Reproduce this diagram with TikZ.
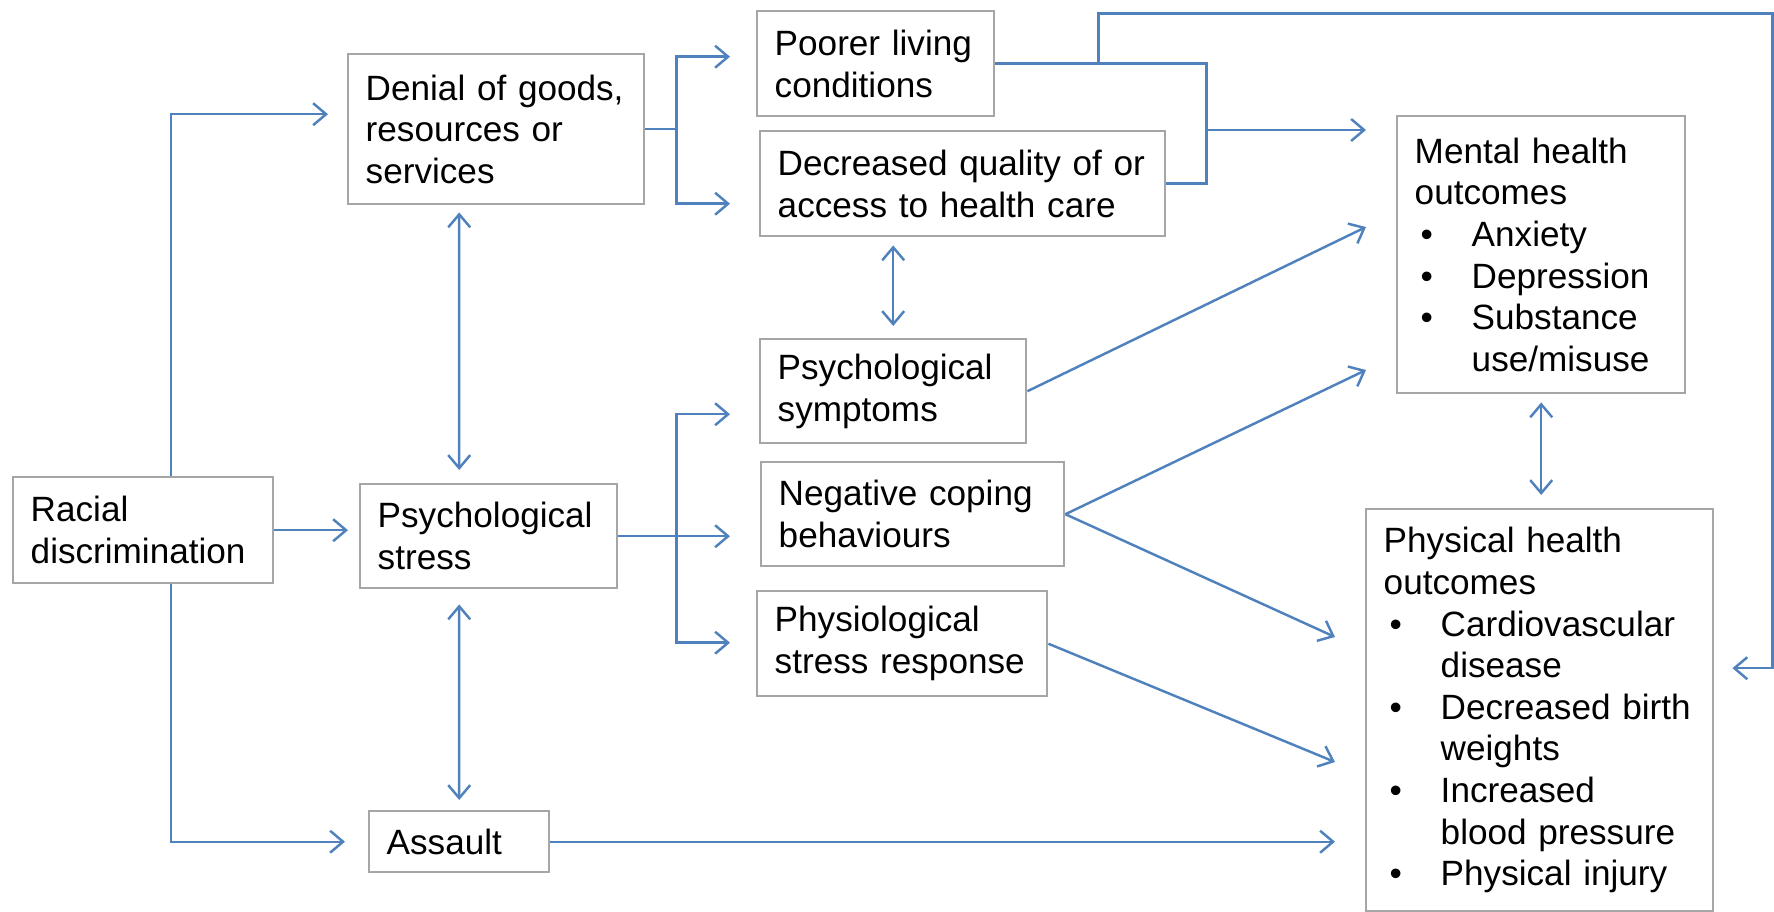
\documentclass[tikz,border=0pt]{standalone}
\usepackage{fontspec}
\setmainfont{Liberation Sans}
\usepackage{xcolor}
\usepackage{tikz}
\usetikzlibrary{arrows.meta}
\usetikzlibrary{calc}
\definecolor{linkblue}{RGB}{79,129,189}
\definecolor{boxgray}{RGB}{166,166,166}
\tikzstyle{box}=[rectangle,draw=boxgray,line width=1.4pt,fill=white,align=left,inner xsep=0.35cm,inner ysep=0.15cm,anchor=north west,font=\fontsize{20}{23.7}\selectfont]
\tikzstyle{link}=[draw=linkblue,line width=1.4pt]
\newcommand{\bul}[1]{\makebox[1.14cm][l]{\hspace{0.12cm}\textbullet}#1}
\newcommand{\bulcont}[1]{\hspace*{1.14cm}#1}

\begin{document}
\begin{tikzpicture}[x=0.02cm,y=-0.02cm,>={Straight Barb[length=2.6mm,width=4.4mm]}]

  \useasboundingbox (0,0) rectangle (1774,912);

  % boxes, placed by their top left corner
  \foreach \x/\y/\w/\h/\name/\label in {12/476/5.2/2.12/racial/{Racial\\discrimination},
      359/483/5.14/2.08/stress/{Psychological\\stress}, 347/53/5.92/3.0/denial/{Denial of goods,\\resources or\\services},
      368/810/3.6/1.22/assault/{Assault}}
  {
     \pgfmathsetmacro{\tw}{\w-0.7}
     \node[box,minimum width=\w cm,minimum height=\h cm,text width=\tw cm] (\name) at (\x,\y) {\label};
  }

  \foreach \x/\y/\w/\h/\name/\label in {756/10/4.74/2.1/poorer/{Poorer living\\conditions},
      759/130/8.1/2.1/quality/{Decreased quality of or\\access to health care},
      759/338/5.32/2.08/symptoms/{Psychological\\symptoms}, 760/461/6.06/2.08/coping/{Negative coping\\behaviours},
      756/590/5.8/2.1/physio/{Physiological\\stress response}}
  {
     \pgfmathsetmacro{\tw}{\w-0.7}
     \node[box,minimum width=\w cm,minimum height=\h cm,text width=\tw cm] (\name) at (\x,\y) {\label};
  }

  \node[box,minimum width=5.76cm,minimum height=5.54cm,text width=5.06cm] (mental) at (1396,115)
       {Mental health\\outcomes\\\bul{Anxiety}\\\bul{Depression}\\\bul{Substance}\\\bulcont{use/misuse}};
  \node[box,minimum width=6.94cm,minimum height=8.04cm,text width=6.24cm] (physical) at (1365,508)
       {Physical health\\outcomes\\\bul{Cardiovascular}\\\bulcont{disease}\\\bul{Decreased birth}\\\bulcont{weights}\\\bul{Increased}\\\bulcont{blood pressure}\\\bul{Physical injury}};

  % from racial discrimination
  \draw[link,->] ($(racial.north)+(28,0)$) |- ($(denial.west)+(-19,-15)$);
  \draw[link,->] (racial.east) -- ($(racial.east -| stress.west)+(-11,0)$);
  \draw[link,->] ($(racial.south)+(28,0)$) |- ($(assault.west)+(-23,0)$);

  % split after denial
  \coordinate (dsplit) at ($(denial.east)+(31,0)$);
  \draw[link] (denial.east) -- (dsplit);
  \draw[link,->] (dsplit) |- ($(poorer.west)+(-26,-7)$);
  \draw[link,->] (dsplit) |- ($(quality.west)+(-29,20)$);

  % poorer living and health care join
  \coordinate (qjoin) at ($(quality.east)+(40,0)$);
  \draw[link] (poorer.east) -| (qjoin) -- (quality.east);
  \draw[link,->] ($(qjoin |- mental.north)+(0,15)$) -- ($(mental.north west)+(-30,15)$);
  \draw[link,->] ($(poorer.east)+(103,0)$) -- ++(0,-50) -| ($(physical.east)+(58,-42)$) -- ($(physical.east)+(18,-42)$);

  % two way links
  \draw[link,<->] ($(denial.south)+(-37,7)$) -- ($(stress.north)+(-29.5,-13)$);
  \draw[link,<->] ($(stress.south)+(-29.5,15)$) -- ($(assault.north)+(0,-10)$);
  \draw[link,<->] ($(symptoms.north)+(0,-12)$) -- ($(quality.south -| symptoms.north)+(0,8)$);
  \draw[link,<->] ($(mental.south)+(0,8)$) -- ($(physical.north -| mental.south)+(0,-13)$);

  % split after psychological stress
  \coordinate (ssplit) at ($(stress.east)+(58,0)$);
  \draw[link,->] (stress.east) -- ($(stress.east -| coping.west)+(-30,0)$);
  \draw[link,->] (ssplit) |- ($(symptoms.west)+(-29,23)$);
  \draw[link,->] (ssplit) |- ($(physio.west)+(-26,-1)$);

  % to the outcomes
  \draw[link,->] (symptoms.east) -- ($(mental.north west)+(-30,112)$);
  \draw[link,->] (coping.east) -- ($(mental.north west)+(-30,255)$);
  \draw[link,->] (coping.east) -- ($(physical.north west)+(-30,129)$);
  \draw[link,->] (physio.east) -- ($(physical.north west)+(-30,254)$);
  \draw[link,->] (assault.east) -- ($(assault.east -| physical.west)+(-30,0)$);

\end{tikzpicture}
\end{document}
